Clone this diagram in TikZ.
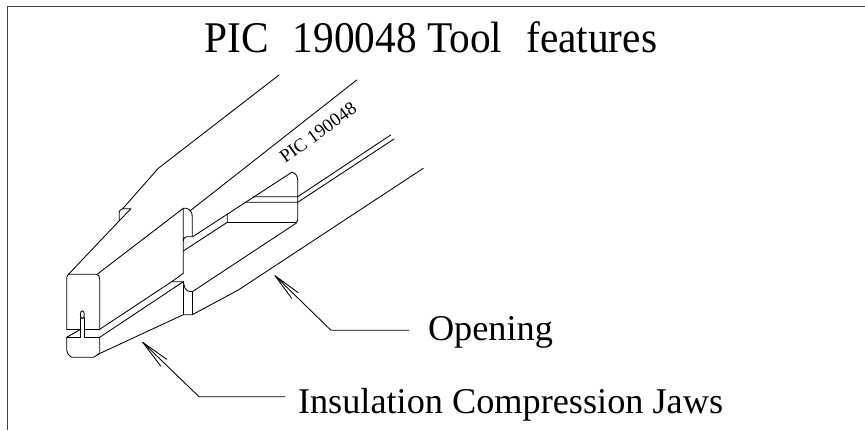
\documentclass[tikz,border=0pt]{standalone}
\usepackage{fontspec}
\usepackage{graphicx}
\setmainfont{Liberation Serif}
\tikzset{
  ln/.style={draw=black,line width=0.65pt,line join=round,line cap=round},
  frameln/.style={draw=black!75,line width=0.9pt},
  titletext/.style={font=\fontsize{31pt}{33pt}\selectfont,anchor=base west,inner sep=0pt,outer sep=0pt},
  labeltext/.style={font=\fontsize{27.2pt}{29pt}\selectfont,anchor=base west,inner sep=0pt,outer sep=0pt},
  parttext/.style={font=\fontsize{14pt}{15pt}\selectfont,inner sep=0pt,rotate=36}
}
\begin{document}
\begin{tikzpicture}[x=0.75pt,y=-0.75pt]
\useasboundingbox (0,0) rectangle (865,430);
% frame
\draw[frameln] (7.7,430) -- (7.7,6.7) -- (865,6.7);
% texts
\node[titletext] (title) at (204.5,52.7) {\scalebox{1}[1.06]{PIC\ \ \kern2.5pt 190048 Tool\ \ \kern2.5pt features}};
\node[labeltext] (openlabel) at (428,340) {Opening};
\node[labeltext] (jawlabel) at (298,413) {Insulation Compression Jaws};
\node[parttext] (partlabel) at (318,132.5) {PIC 190048};
% outer upper line and notch
\draw[ln] (279,75) -- (158.3,168.3) -- (122.7,208.7) -- (131,208.7) -- (119.3,220.7) -- (68.5,274.3)
  .. controls (67.2,275.5) and (66.7,276.8) .. (66.7,279) -- (66.7,329.3);
\draw[ln] (122.7,208.7) .. controls (120.5,209.5) and (119.3,210.5) .. (119.3,212) -- (119.3,220.7);
% upper jaw front/top
\draw[ln] (68.5,274.3) -- (96,274.3) .. controls (98.5,274.3) and (99.7,276) .. (99.7,279) -- (99.7,329.3);
\draw[ln] (66.7,329.3) -- (80.7,329.3);
\draw[ln] (84.7,329.3) -- (99.7,329.3);
\draw[ln] (97.5,274) -- (183.3,208.3);
% slot
\draw[ln] (82.3,314.7) ellipse [x radius=2,y radius=4];
\draw[ln] (80.7,317.5) -- (80.7,337.3) -- (66.7,337.3);
\draw[ln] (84.5,317.5) -- (84.5,337.3) -- (99.7,337.3);
% lower jaw
\draw[ln] (80.7,329.3) -- (66.7,337.3) -- (66.7,350)
  .. controls (66.7,353) and (68.5,355) .. (71.7,357.3) -- (93.5,357.3) -- (99.7,353.5) -- (99.7,337.3);
\draw[ln] (97.5,354.5) -- (183.3,314.7) -- (192.3,314.7) -- (238.3,290) -- (423.3,168.3);
\draw[ln] (99.7,329.3) -- (171.7,281.7) -- (183.3,281.7)
  .. controls (184.5,287) and (184.5,291.7) .. (192.3,291.7) -- (296,223.3)
  .. controls (297,222.5) and (297.7,221.5) .. (297.7,220) -- (297.7,180)
  .. controls (297.7,176) and (295,172.3) .. (291.7,172.3) -- (192.7,236.7);
\draw[ln] (99.7,337.3) -- (183.3,281.7);
% rib verticals
\draw[ln] (183.3,281.7) -- (183.3,314.7);
\draw[ln] (192.3,291.7) -- (192.3,314.7);
\draw[ln] (183.3,273.3) -- (171.7,281.7);
\draw[ln] (183.3,273.3) -- (183.3,208.3) -- (186,208.3)
  .. controls (190,209) and (192.3,212) .. (192.3,217) -- (192.3,236.7) -- (186.5,236.7)
  .. controls (184.5,237) and (183.3,239) .. (183.3,241);
\draw[ln] (190.5,210.5) -- (356.7,80);
% middle block
\draw[ln] (183.3,251) -- (227.3,222.3) -- (227.3,214);
\draw[ln] (227.3,222.3) -- (296,222.3);
\draw[ln] (253.3,196.7) -- (297.7,196.7) -- (390.7,135);
\draw[ln] (245,202.3) -- (297.7,202.3) -- (394,139);
% arrows
\coordinate (jawtip) at (142.7,342.3);
\coordinate (jawbarba) at (166.7,359.3);
\coordinate (jawbarbb) at (160.7,366);
\coordinate (jawbend) at (199,396.7);
\coordinate (jawend) at (285,396.7);
\draw[ln] (jawend) -- (jawbend) -- (jawtip) -- (jawbarba);
\draw[ln] (jawtip) -- (jawbarbb);
\coordinate (opentip) at (275,275.7);
\coordinate (openbarba) at (298.3,292.7);
\coordinate (openbarbb) at (291.7,298.3);
\coordinate (openbend) at (331,330.3);
\coordinate (openend) at (409,330.3);
\draw[ln] (openend) -- (openbend) -- (opentip) -- (openbarba);
\draw[ln] (opentip) -- (openbarbb);
\end{tikzpicture}
\end{document}
